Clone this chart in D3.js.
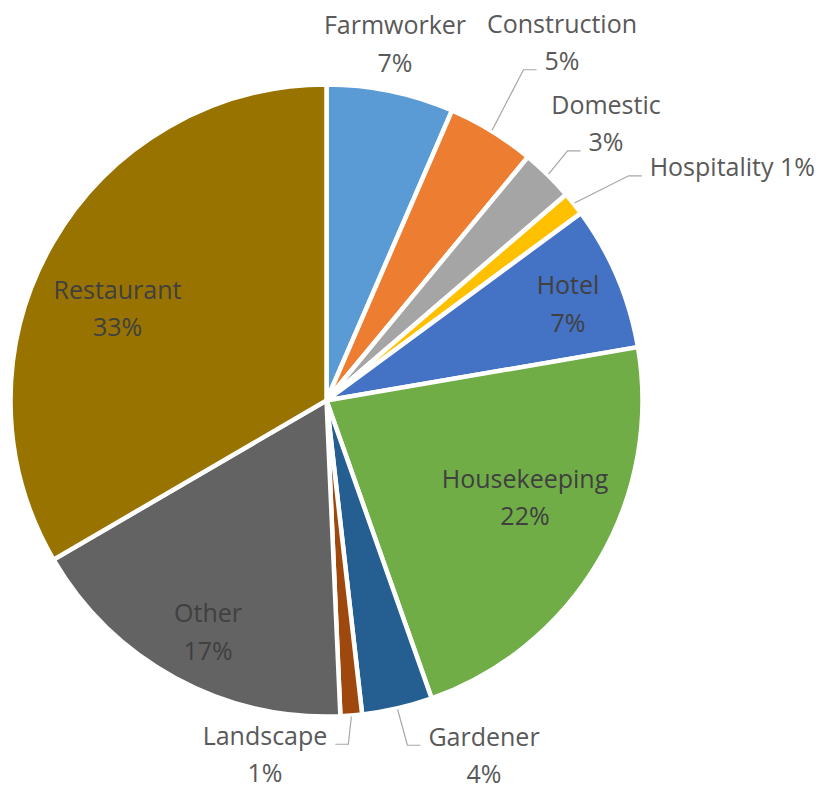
<!DOCTYPE html>
<html>
<head>
<meta charset="utf-8">
<script src="https://cdn.jsdelivr.net/npm/d3@7"></script>
<style>
  body { margin: 0; background: #fff; }
  text { font-family: "Open Sans", sans-serif; }
</style>
</head>
<body>
<div id="chart"></div>
<script>
// occupations and their share (percent), clockwise from 12 o'clock
const categories = ["Farmworker", "Construction", "Domestic", "Hospitality", "Hotel",
                    "Housekeeping", "Gardener", "Landscape", "Other", "Restaurant"];
const shares     = [6.5, 4.5, 2.7, 1.2, 7.4, 22.3, 3.6, 1.1, 17.3, 33.4];
const colors     = ["#5b9bd5", "#ed7d31", "#a5a5a5", "#ffc000", "#4472c4",
                    "#70ad47", "#255e91", "#9e480e", "#636363", "#997300"];

const width  = 833,
      height = 790;
const cx = 326.5, cy = 400.5, radius = 316;
const fontSize = 25, lineGap = 37.5, capHalf = 9;

// where each label sits, as offset of its block centre from the pie centre
const labelLayout = {
  Farmworker:   { at: [68.5, -356.5] },
  Construction: { at: [235.5, -358],   leader: { line: 1, side: "left" } },
  Domestic:     { at: [279.5, -276.8], leader: { line: 1, side: "left" } },
  Hospitality:  { at: [405.8, -233.2], oneLine: true, leader: { line: 0, side: "left" } },
  Hotel:        { at: [241.5, -96.5],  inside: true },
  Housekeeping: { at: [198.5, 97],     inside: true },
  Gardener:     { at: [157.5, 355],    leader: { line: 0, side: "left" } },
  Landscape:    { at: [-61.5, 354],    leader: { line: 0, side: "right" } },
  Other:        { at: [-118.5, 231.5], inside: true },
  Restaurant:   { at: [-209, -92],     inside: true }
};

const data = categories.map((c, i) => ({ name: c, share: shares[i], color: colors[i] }));

const svg = d3.select("#chart")
  .append("svg")
  .attr("width", width)
  .attr("height", height);

const g = svg.append("g")
  .attr("transform", `translate(${cx},${cy})`);

const pie = d3.pie()
  .sort(null)
  .value(d => d.share);

const arc = d3.arc()
  .innerRadius(0)
  .outerRadius(radius);

const arcs = pie(data);

g.selectAll("path.slice")
  .data(arcs)
  .join("path")
  .attr("class", "slice")
  .attr("d", arc)
  .attr("fill", d => d.data.color)
  .attr("stroke", "#fff")
  .attr("stroke-width", 4.5);

// labels + leader lines
const labels = g.append("g");
const leaders = g.append("g");

arcs.forEach(d => {
  const lay = labelLayout[d.data.name];
  const pct = Math.round(d.data.share) + "%";
  const fill = lay.inside ? "#404040" : "#595959";
  const lines = lay.oneLine ? [d.data.name + " " + pct] : [d.data.name, pct];

  const nodes = lines.map((txt, i) => {
    const yc = lay.oneLine ? lay.at[1] : lay.at[1] + (i === 0 ? -lineGap / 2 : lineGap / 2);
    return labels.append("text")
      .attr("x", lay.at[0])
      .attr("y", yc + capHalf)
      .attr("text-anchor", "middle")
      .attr("font-size", fontSize)
      .attr("fill", fill)
      .text(txt);
  });

  if (lay.leader) {
    const t = nodes[lay.leader.line];
    const w = t.node().getComputedTextLength();
    const by = +t.attr("y") - 0.5;
    const a = (d.startAngle + d.endAngle) / 2;
    const start = [Math.sin(a) * (radius + 1), -Math.cos(a) * (radius + 1)];
    let end, elbow;
    if (lay.leader.side === "left") {
      end = [lay.at[0] - w / 2 - 8, by];
      elbow = [end[0] - 13, by];
    } else {
      end = [lay.at[0] + w / 2 + 8, by];
      elbow = [end[0] + 13, by];
    }
    leaders.append("path")
      .attr("d", d3.line()([start, elbow, end]))
      .attr("fill", "none")
      .attr("stroke", "#a6a6a6")
      .attr("stroke-width", 1.2);
  }
});
</script>
</body>
</html>
